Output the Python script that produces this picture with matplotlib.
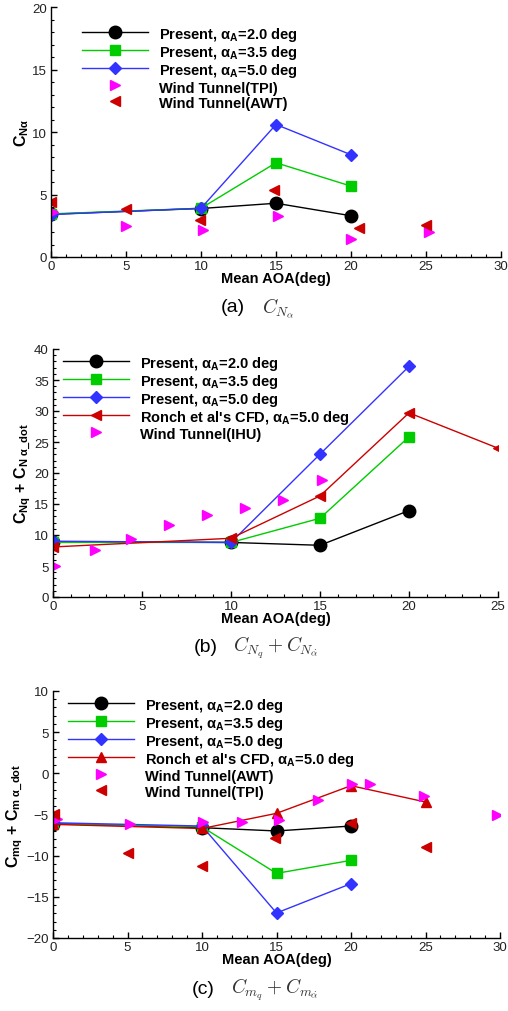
import matplotlib
matplotlib.use('Agg')
import matplotlib.pyplot as plt
from matplotlib.ticker import MultipleLocator

plt.rcParams['font.family'] = ['Liberation Sans', 'DejaVu Sans']
plt.rcParams['mathtext.fontset'] = 'custom'
plt.rcParams['mathtext.rm'] = 'Liberation Sans'
plt.rcParams['mathtext.it'] = 'Liberation Sans:italic'
plt.rcParams['mathtext.bf'] = 'Liberation Sans:bold'

# ---- data (a) C_N_alpha
a_x = [0, 10, 15, 20]
a_p20 = [3.42, 3.88, 4.3, 3.3]
a_p35 = [3.45, 3.9, 7.54, 5.67]
a_p50 = [3.4, 3.9, 10.6, 8.18]
a_tpi_x = [0.1, 5.0, 10.1, 15.1, 20.0, 25.2]
a_tpi_y = [3.6, 2.5, 2.17, 3.26, 1.47, 1.98]
a_awt_x = [0.0, 5.0, 9.9, 14.85, 20.5, 25.0]
a_awt_y = [4.4, 3.82, 3.0, 5.35, 2.35, 2.54]

# ---- data (b) C_Nq + C_N_alpha_dot
b_x = [0, 10, 15, 20]
b_p20 = [8.9, 8.8, 8.34, 13.94]
b_p35 = [8.8, 8.8, 12.7, 25.84]
b_p50 = [9.0, 8.8, 23.04, 37.2]
b_ronch_x = [0, 10, 15, 20, 25]
b_ronch_y = [8.07, 9.47, 16.3, 29.7, 24.0]
b_ihu_x = [0.1, 2.34, 4.39, 6.5, 8.67, 10.78, 12.9, 15.1]
b_ihu_y = [5.0, 7.6, 9.42, 11.68, 13.24, 14.37, 15.67, 18.84]

# ---- data (c) C_mq + C_m_alpha_dot
c_x = [0, 10, 15, 20]
c_p20 = [-6.1, -6.6, -7.0, -6.4]
c_p35 = [-6.15, -6.5, -12.15, -10.57]
c_p50 = [-6.0, -6.4, -16.96, -13.4]
c_ronch_x = [0, 10, 15, 20, 25]
c_ronch_y = [-6.2, -6.7, -4.86, -1.5, -3.48]
c_awt_x = [0.27, 5.2, 10.1, 12.7, 15.2, 17.8, 20.1, 21.3, 24.9, 29.8]
c_awt_y = [-5.5, -6.15, -5.87, -5.95, -5.67, -3.24, -1.26, -1.3, -2.75, -5.02]
c_tpi_x = [0.1, 5.0, 10.0, 14.9, 20.0, 25.0]
c_tpi_y = [-4.9, -9.64, -11.25, -7.9, -6.07, -8.9]

BLACK = 'black'
GREEN = '#00cc00'
BLUE = '#3333ff'
RED = '#cc0000'
MAGENTA = '#ff00ff'

fig = plt.figure(figsize=(5.08, 10.12), dpi=100)
W, H = 508.0, 1012.0


def make_axes(l, r, t, b):
    return fig.add_axes([l / W, 1 - b / H, (r - l) / W, (b - t) / H])


def style(ax, xmax, ymin, ymax, ylabel):
    ax.set_xlim(0, xmax)
    ax.set_ylim(ymin, ymax)
    ax.spines['top'].set_visible(False)
    ax.spines['right'].set_visible(False)
    for s in ['left', 'bottom']:
        ax.spines[s].set_linewidth(1.0)
    ax.xaxis.set_major_locator(MultipleLocator(5))
    ax.xaxis.set_minor_locator(MultipleLocator(1))
    ax.yaxis.set_major_locator(MultipleLocator(5))
    ax.yaxis.set_minor_locator(MultipleLocator(1))
    ax.tick_params(which='both', direction='in', top=False, right=False,
                   labelsize=9.5, labelcolor='#222222')
    ax.tick_params(which='major', length=4.3, width=1.0)
    ax.tick_params(which='minor', length=2.2, width=0.8)
    ax.tick_params(axis='x', pad=2.0)
    ax.tick_params(axis='y', pad=3.0)
    ax.set_xlabel('Mean AOA(deg)', fontsize=10.5, fontweight='bold', labelpad=-0.5)
    ax.set_ylabel(ylabel, fontsize=11.5, fontweight='bold', labelpad=1)


def legend(ax, x0, ytop):
    ax.legend(loc='upper left', bbox_to_anchor=(x0, ytop), frameon=False,
              prop={'weight': 'bold', 'size': 10.5}, handlelength=4.5,
              handleheight=1.22, handletextpad=0.75, labelspacing=0.0,
              borderpad=0, borderaxespad=0)


def lbl(a):
    return r'Present, $\mathbf{\alpha_A}$=%s deg' % a


ronch_lbl = r"Ronch et al's CFD, $\mathbf{\alpha_A}$=5.0 deg"

# ---------------- (a)
ax1 = make_axes(51, 501, 8, 258)
ax1.plot(a_x, a_p20, '-o', color=BLACK, lw=1, ms=9, label=lbl('2.0'))
ax1.plot(a_x, a_p35, '-s', color=GREEN, lw=1, ms=7, label=lbl('3.5'))
ax1.plot(a_x, a_p50, '-D', color=BLUE, lw=1, ms=6.5, label=lbl('5.0'))
ax1.plot(a_tpi_x, a_tpi_y, '>', color=MAGENTA, ms=7.5, ls='none', label='Wind Tunnel(TPI)')
ax1.plot(a_awt_x, a_awt_y, '<', color=RED, ms=7.5, ls='none', label='Wind Tunnel(AWT)')
style(ax1, 30, 0, 20, r'$\mathbf{C_{N\alpha}}$')
legend(ax1, 0.069, 0.927)

# ---------------- (b)
ax2 = make_axes(53, 498, 350, 598)
ax2.plot(b_x, b_p20, '-o', color=BLACK, lw=1, ms=9, label=lbl('2.0'))
ax2.plot(b_x, b_p35, '-s', color=GREEN, lw=1, ms=7, label=lbl('3.5'))
ax2.plot(b_x, b_p50, '-D', color=BLUE, lw=1, ms=6.5, label=lbl('5.0'))
ax2.plot(b_ronch_x, b_ronch_y, '-<', color=RED, lw=1, ms=7.5, label=ronch_lbl)
ax2.plot(b_ihu_x, b_ihu_y, '>', color=MAGENTA, ms=7.5, ls='none', label='Wind Tunnel(IHU)')
style(ax2, 25, 0, 40, r'$\mathbf{C_{Nq}}$ + $\mathbf{C_{N\ \alpha\_dot}}$')
legend(ax2, (63 - 53) / 445.0, (598 - 355) / 248.0)

# ---------------- (c)
ax3 = make_axes(53, 500, 692, 939)
ax3.plot(c_x, c_p20, '-o', color=BLACK, lw=1, ms=9, label=lbl('2.0'))
ax3.plot(c_x, c_p35, '-s', color=GREEN, lw=1, ms=7, label=lbl('3.5'))
ax3.plot(c_x, c_p50, '-D', color=BLUE, lw=1, ms=6.5, label=lbl('5.0'))
ax3.plot(c_ronch_x, c_ronch_y, '-^', color=RED, lw=1, ms=7.5, label=ronch_lbl)
ax3.plot(c_awt_x, c_awt_y, '>', color=MAGENTA, ms=7.5, ls='none', label='Wind Tunnel(AWT)')
ax3.plot(c_tpi_x, c_tpi_y, '<', color=RED, ms=7.5, ls='none', label='Wind Tunnel(TPI)')
style(ax3, 30, -20, 10, r'$\mathbf{C_{mq}}$ + $\mathbf{C_{m\ \alpha\_dot}}$')
legend(ax3, (68 - 53) / 447.0, (939 - 697) / 247.0)

# ---------------- captions
caps = [('(a)', r'$C_{N_\alpha}$', 245, 262, 308),
        ('(b)', r'$C_{N_q} + C_{N_{\dot\alpha}}$', 218, 233, 648),
        ('(c)', r'$C_{m_q} + C_{m_{\dot\alpha}}$', 215, 231, 990)]
for tag, math, xr, xm, yc in caps:
    fig.text(xr / W, 1 - yc / H, tag, ha='right', va='center', fontsize=14)
    fig.text(xm / W, 1 - yc / H, math, ha='left', va='center', fontsize=14,
             math_fontfamily='cm', color='#333333')

fig.savefig('out.png', dpi=100)
